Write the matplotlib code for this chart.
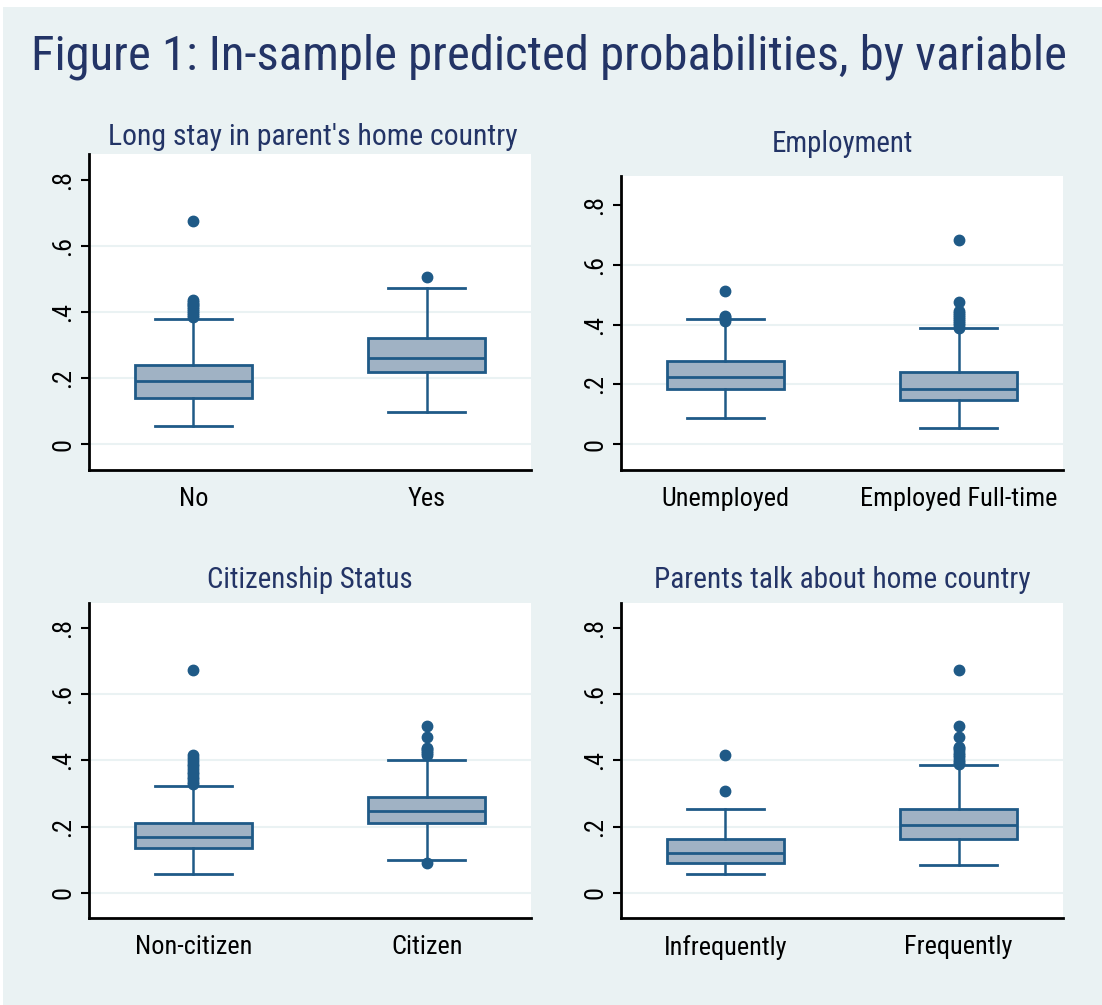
import matplotlib
matplotlib.use("Agg")
import matplotlib.pyplot as plt
from matplotlib import font_manager as fm
from matplotlib.patches import Rectangle

# ---------------- data ----------------
main_title = "Figure 1: In-sample predicted probabilities, by variable"
panel_titles = ["Long stay in parent's home country", "Employment",
                "Citizenship Status", "Parents talk about home country"]
categories = [["No", "Yes"], ["Unemployed", "Employed Full-time"],
              ["Non-citizen", "Citizen"], ["Infrequently", "Frequently"]]
ytick_values = [0, 0.2, 0.4, 0.6, 0.8]
ytick_labels = ["0", ".2", ".4", ".6", ".8"]

q1 = [[0.140, 0.218], [0.186, 0.148], [0.134, 0.212], [0.091, 0.161]]
median = [[0.191, 0.261], [0.225, 0.186], [0.169, 0.247], [0.119, 0.204]]
q3 = [[0.239, 0.323], [0.280, 0.242], [0.212, 0.288], [0.162, 0.253]]
whisker_low = [[0.056, 0.099], [0.087, 0.055], [0.056, 0.099], [0.056, 0.085]]
whisker_high = [[0.380, 0.473], [0.419, 0.389], [0.323, 0.401], [0.252, 0.387]]
outliers = [
    [[0.385, 0.392, 0.398, 0.405, 0.410, 0.416, 0.421, 0.426, 0.431, 0.436, 0.676],
     [0.507]],
    [[0.412, 0.418, 0.424, 0.430, 0.513],
     [0.390, 0.398, 0.405, 0.412, 0.419, 0.426, 0.433, 0.440, 0.446, 0.475, 0.684]],
    [[0.328, 0.335, 0.343, 0.350, 0.358, 0.366, 0.374, 0.382, 0.390, 0.398, 0.406, 0.416, 0.673],
     [0.091, 0.416, 0.422, 0.428, 0.433, 0.437, 0.471, 0.505]],
    [[0.308, 0.415],
     [0.388, 0.395, 0.402, 0.409, 0.416, 0.423, 0.430, 0.436, 0.441, 0.470, 0.504, 0.673]],
]

# ---------------- font: prefer a narrow face ----------------
def pick_font():
    entries = fm.fontManager.ttflist
    prefs = ["Liberation Sans Narrow", "Roboto Condensed", "Open Sans Condensed",
             "Noto Sans Condensed", "DejaVu Sans"]
    for name in prefs:
        for f in entries:
            if f.name == name and f.style == "normal" and f.weight in (400, "normal", "regular") \
                    and (f.stretch in ("condensed", "semi-condensed", "extra-condensed")
                         or "Narrow" in name or "Condensed" in name):
                return name, f.stretch
    return "Liberation Sans", "normal"

FONT, STRETCH = pick_font()
plt.rcParams["font.family"] = [FONT, "DejaVu Sans"]
plt.rcParams["font.stretch"] = STRETCH

BG = "#EAF2F3"
FILL = "#A0B2C4"
EDGE = "#1F5A87"
TITLE_C = "#233466"

W, H = 1102, 1005
fig = plt.figure(figsize=(W / 100, H / 100), dpi=100)
fig.patch.set_facecolor("white")
fig.add_artist(Rectangle((3 / W, 0), 1 - 3 / W, 1 - 7 / H, transform=fig.transFigure,
                         facecolor=BG, edgecolor="none", zorder=-10))

axes_px = [(89, 154, 531, 470), (621, 176, 1063, 470),
           (89, 603, 531, 918), (621, 603, 1063, 918)]
ylims = [(-0.078, 0.880), (-0.086, 0.897), (-0.076, 0.875), (-0.076, 0.875)]
title_pos = [(313, 145), (842, 152), (310, 588), (842, 588)]

axes = []
ptitles = []
for i in range(4):
    l, t, r, b = axes_px[i]
    ax = fig.add_axes([l / W, 1 - b / H, (r - l) / W, (b - t) / H])
    ax.set_facecolor("white")
    stats = []
    for j in range(2):
        stats.append(dict(med=median[i][j], q1=q1[i][j], q3=q3[i][j],
                          whislo=whisker_low[i][j], whishi=whisker_high[i][j],
                          fliers=outliers[i][j]))
    ax.bxp(stats, positions=[1, 2], widths=0.5, patch_artist=True, showfliers=True,
           capwidths=0.33,
           boxprops=dict(facecolor=FILL, edgecolor=EDGE, linewidth=2.0),
           medianprops=dict(color=EDGE, linewidth=2.0),
           whiskerprops=dict(color=EDGE, linewidth=1.8),
           capprops=dict(color=EDGE, linewidth=2.0),
           flierprops=dict(marker="o", markerfacecolor=EDGE, markeredgecolor=EDGE,
                           markersize=7.5))
    ax.set_xlim(0.553, 2.447)
    ax.set_ylim(*ylims[i])
    ax.set_yticks(ytick_values)
    ax.set_yticklabels(ytick_labels, rotation=90, va="center")
    ax.set_xticks([1, 2])
    ax.set_xticklabels(categories[i])
    ax.yaxis.grid(True, color=BG, linewidth=1.5, zorder=0)
    ax.set_axisbelow(True)
    gl = ax.get_ygridlines()
    gl[-1].set_visible(False)
    for s in ["top", "right"]:
        ax.spines[s].set_visible(False)
    for s in ["left", "bottom"]:
        ax.spines[s].set_linewidth(2)
        ax.spines[s].set_color("black")
    ax.tick_params(axis="x", length=0, pad=12, labelsize=17)
    ax.tick_params(axis="y", length=6, width=1.5, pad=4, labelsize=17)
    axes.append(ax)
    x, y = title_pos[i]
    ptitles.append(fig.text(x / W, 1 - y / H, panel_titles[i], ha="center", va="baseline",
                            color=TITLE_C, fontsize=18))

mt = fig.text(548.5 / W, 1 - 70 / H, main_title, ha="center", va="baseline",
              color=TITLE_C, fontsize=33)

# fit text widths to the reference
fig.canvas.draw()
rend = fig.canvas.get_renderer()

def fit(t, target):
    w = t.get_window_extent(rend).width
    t.set_fontsize(t.get_fontsize() * target / w)

fit(mt, 1037)
for t, tw in zip(ptitles, [410, 141, 205, 377]):
    fit(t, tw)
lab = axes[1].get_xticklabels()[1]
scale = 197 / lab.get_window_extent(rend).width
size = 17 * scale
for ax in axes:
    ax.tick_params(axis="x", labelsize=size)
    ax.tick_params(axis="y", labelsize=min(size, 19))

fig.savefig("out.png", dpi=100, facecolor=fig.get_facecolor())
